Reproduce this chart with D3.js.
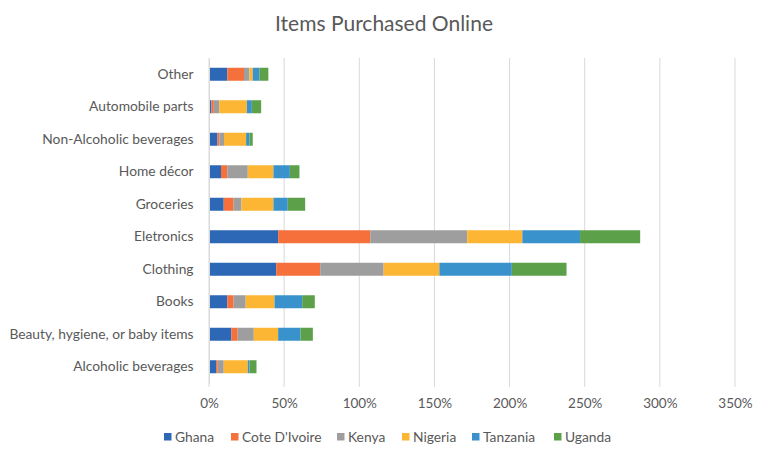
<!DOCTYPE html>
<html>
<head>
<meta charset="utf-8">
<script src="https://cdn.jsdelivr.net/npm/d3@7"></script>
<style>
  body { margin: 0; background: #fff; }
  text { font-family: Lato, "Open Sans", sans-serif; fill: #595959; }
</style>
</head>
<body>
<div id="chart"></div>
<script>
// categories top to bottom
var categories = ["Other", "Automobile parts", "Non-Alcoholic beverages", "Home décor", "Groceries",
  "Eletronics", "Clothing", "Books", "Beauty, hygiene, or baby items", "Alcoholic beverages"];
var countries = ["Ghana", "Cote D'Ivoire", "Kenya", "Nigeria", "Tanzania", "Uganda"];
var colors = ["#2C68B5", "#F5703A", "#9E9E9E", "#FDB633", "#3A92CC", "#5CA14A"];

// values in percent, one array per country, same order as categories
var ghana    = [12.2, 1.6, 5.6, 8.0, 9.8, 46.0, 44.7, 12.2, 14.9, 4.7];
var coteIv   = [11.1, 1.6, 1.3, 4.2, 6.6, 61.3, 29.3, 4.2, 4.2, 1.1];
var kenya    = [3.6, 3.6, 3.1, 13.6, 5.2, 64.5, 42.2, 8.0, 10.7, 4.0];
var nigeria  = [2.2, 18.4, 14.7, 17.1, 21.3, 36.7, 37.1, 19.2, 16.2, 16.0];
var tanzania = [4.4, 3.3, 2.2, 10.9, 9.5, 38.4, 48.2, 18.4, 14.9, 1.1];
var uganda   = [6.0, 6.2, 2.2, 6.4, 11.6, 40.0, 36.4, 8.4, 8.2, 4.7];
var xTicks = [0, 50, 100, 150, 200, 250, 300, 350];

var series = [ghana, coteIv, kenya, nigeria, tanzania, uganda];
var rows = categories.map(function(c, i) {
  var r = { cat: c };
  countries.forEach(function(k, j) { r[k] = series[j][i]; });
  return r;
});
var stacked = d3.stack().keys(countries)(rows);

var W = 768, H = 453;
var svg = d3.select('#chart').append('svg')
    .attr('width', W)
    .attr('height', H);

var x = d3.scaleLinear().domain([0, 350]).range([209, 735]);
var y = d3.scaleBand().domain(categories).range([58, 383]).paddingInner(0.6).paddingOuter(0.3);

// title
svg.append('text')
    .attr('x', 384).attr('y', 31)
    .attr('text-anchor', 'middle')
    .style('font-size', '21px')
    .text('Items Purchased Online');

// gridlines
svg.append('g').selectAll('line')
    .data(xTicks)
    .join('line')
    .attr('x1', d => x(d)).attr('x2', d => x(d))
    .attr('y1', 58).attr('y2', 387)
    .attr('stroke', '#d9d9d9')
    .attr('stroke-width', 1);

// bars
svg.append('g').selectAll('g')
    .data(stacked)
    .join('g')
    .attr('fill', (d, i) => colors[i])
    .selectAll('rect')
    .data(d => d)
    .join('rect')
    .attr('x', d => x(d[0]))
    .attr('width', d => x(d[1]) - x(d[0]))
    .attr('y', d => y(d.data.cat))
    .attr('height', y.bandwidth());

// x axis labels
var xAxis = d3.axisBottom(x).tickValues(xTicks).tickFormat(d => d + '%').tickSize(0).tickPadding(11);
var gx = svg.append('g').attr('transform', 'translate(0,387)').call(xAxis);
gx.select('.domain').remove();
gx.selectAll('text').style('font-size', '13.5px').style('font-family', 'Lato, sans-serif').attr('fill', '#595959');

// y axis labels
var yAxis = d3.axisLeft(y).tickSize(0).tickPadding(15.5);
var gy = svg.append('g').attr('transform', 'translate(209,0)').call(yAxis);
gy.select('.domain').attr('stroke', '#d9d9d9');
gy.selectAll('text').style('font-size', '13.8px').style('font-family', 'Lato, sans-serif').attr('fill', '#595959');

// legend
var legX = [164, 231, 337, 402, 472, 554];
var leg = svg.append('g').selectAll('g')
    .data(countries)
    .join('g')
    .attr('transform', (d, i) => 'translate(' + legX[i] + ',437)');
leg.append('rect')
    .attr('x', 0).attr('y', -4)
    .attr('width', 7.5).attr('height', 7.5)
    .attr('fill', (d, i) => colors[i]);
leg.append('text')
    .attr('x', 11).attr('y', 4.5)
    .style('font-size', '13.8px')
    .text(d => d);
</script>
</body>
</html>
